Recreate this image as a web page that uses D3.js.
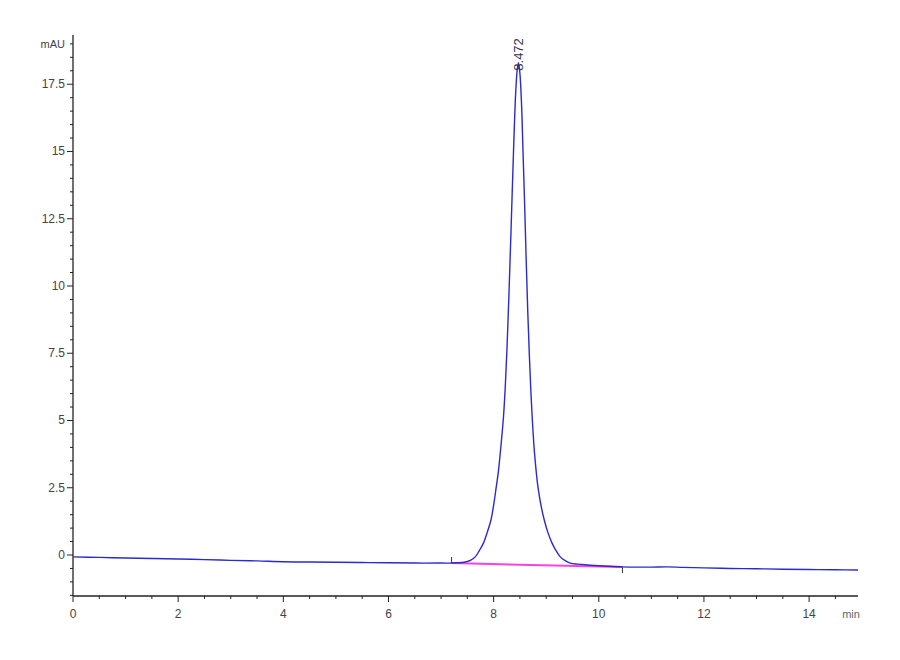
<!DOCTYPE html>
<html>
<head>
<meta charset="utf-8">
<script src="https://cdn.jsdelivr.net/npm/d3@7"></script>
<style>
  body { margin: 0; background: #fff; }
  svg text { font-family: "Liberation Sans Narrow", "Liberation Sans", Arial, sans-serif; }
</style>
</head>
<body>
<svg id="chart" width="900" height="660"></svg>
<script>
// --- data ---
const times = [0, 0.5, 1, 1.5, 2, 2.5, 3, 3.5, 4, 4.5, 5, 5.5, 6, 6.5, 7, 7.23,
  7.4, 7.48, 7.557, 7.65, 7.73, 7.808, 7.88, 7.949, 8.0, 8.05, 8.09, 8.126, 8.16, 8.188, 8.22,
  8.253, 8.29, 8.33, 8.379, 8.42, 8.447, 8.472, 8.5, 8.53, 8.558, 8.59, 8.62, 8.65, 8.68,
  8.71, 8.74, 8.773, 8.81, 8.843, 8.9, 8.963, 9.03, 9.109, 9.19, 9.267, 9.36, 9.458,
  9.6, 9.78, 10.0, 10.2, 10.45, 10.7, 11.0, 11.3, 11.6, 12.0, 12.5, 13.0, 13.5, 14.0, 14.5, 14.93];
const signal = [-0.07, -0.09, -0.11, -0.13, -0.15, -0.17, -0.2, -0.22, -0.25, -0.26, -0.27, -0.28, -0.29, -0.3, -0.3, -0.3,
  -0.28, -0.25, -0.2, -0.07, 0.17, 0.45, 0.85, 1.3, 1.85, 2.53, 3.1, 3.79, 4.5, 5.15, 6.2,
  7.62, 9.6, 12.0, 15.06, 17.2, 18.0, 18.3, 17.9, 16.8, 15.06, 13.0, 10.9, 9.0, 7.4,
  6.0, 4.9, 3.9, 3.1, 2.53, 1.85, 1.3, 0.85, 0.45, 0.15, -0.07, -0.21, -0.3,
  -0.34, -0.37, -0.4, -0.42, -0.44, -0.45, -0.45, -0.44, -0.46, -0.48, -0.5, -0.51, -0.53, -0.54, -0.55, -0.56];

const peakTime  = 8.472;
const peakLabel = "8.472";
const baseTimes  = [7.2, 10.45];
const baseValues = [-0.30, -0.45];

const xMajor = [0, 2, 4, 6, 8, 10, 12, 14];
const yMajor = [0, 2.5, 5, 7.5, 10, 12.5, 15, 17.5];
const yLabels = ["0", "2.5", "5", "7.5", "10", "12.5", "15", "17.5"];

// --- scales ---
const svg = d3.select("#chart");
const x = d3.scaleLinear().domain([0, 14.93]).range([73, 858]);
const y = d3.scaleLinear().domain([-1.524, 19.33]).range([596, 35]);

const axisColor = "#222";
const labelColor = "#444";

// minor ticks every 0.5
const xMinor = d3.range(0, 14.93, 0.5).filter(v => v % 2 !== 0);
const yMinor = d3.range(-1.5, 19.3, 0.5).filter(v => Math.abs(v % 2.5) > 1e-9);

// x axis
const xAxis = svg.append("g").attr("transform", `translate(0,${y.range()[0]})`);
xAxis.append("line")
  .attr("x1", x.range()[0]).attr("x2", x.range()[1])
  .attr("stroke", axisColor).attr("stroke-width", 1.3);
xAxis.selectAll(".xmin").data(xMinor).enter().append("line")
  .attr("x1", d => x(d)).attr("x2", d => x(d))
  .attr("y1", 0).attr("y2", 3)
  .attr("stroke", axisColor);
xAxis.selectAll(".xmaj").data(xMajor).enter().append("line")
  .attr("x1", d => x(d)).attr("x2", d => x(d))
  .attr("y1", 0).attr("y2", 6)
  .attr("stroke", axisColor);
xAxis.selectAll(".xlab").data(xMajor).enter().append("text")
  .attr("x", d => x(d)).attr("y", 22)
  .attr("text-anchor", "middle")
  .style("font-size", "12px").style("fill", labelColor)
  .text(d => d);
xAxis.append("text")
  .attr("x", 851).attr("y", 22)
  .attr("text-anchor", "middle")
  .style("font-size", "11px").style("fill", "#666")
  .text("min");

// y axis
const yAxis = svg.append("g").attr("transform", `translate(${x.range()[0]},0)`);
yAxis.append("line")
  .attr("y1", y.range()[0]).attr("y2", y.range()[1])
  .attr("stroke", axisColor).attr("stroke-width", 1.3);
yAxis.selectAll(".ymin").data(yMinor).enter().append("line")
  .attr("y1", d => y(d)).attr("y2", d => y(d))
  .attr("x1", 0).attr("x2", -3)
  .attr("stroke", axisColor);
yAxis.selectAll(".ymaj").data(yMajor).enter().append("line")
  .attr("y1", d => y(d)).attr("y2", d => y(d))
  .attr("x1", 0).attr("x2", -6)
  .attr("stroke", axisColor);
yAxis.selectAll(".ylab").data(yMajor).enter().append("text")
  .attr("x", -8).attr("y", d => y(d) + 4)
  .attr("text-anchor", "end")
  .style("font-size", "12px").style("fill", labelColor)
  .text((d, i) => yLabels[i]);
yAxis.append("text")
  .attr("x", -8).attr("y", y(19) + 4)
  .attr("text-anchor", "end")
  .style("font-size", "11px").style("fill", labelColor)
  .text("mAU");

// baseline of the integrated peak
svg.append("line")
  .attr("x1", x(baseTimes[0])).attr("y1", y(baseValues[0]))
  .attr("x2", x(baseTimes[1])).attr("y2", y(baseValues[1]))
  .attr("stroke", "#ff40e0").attr("stroke-width", 2);
svg.append("line")
  .attr("x1", x(baseTimes[0])).attr("x2", x(baseTimes[0]))
  .attr("y1", y(baseValues[0]) - 6).attr("y2", y(baseValues[0]))
  .attr("stroke", "#333");
svg.append("line")
  .attr("x1", x(baseTimes[1])).attr("x2", x(baseTimes[1]))
  .attr("y1", y(baseValues[1])).attr("y2", y(baseValues[1]) + 6)
  .attr("stroke", "#333");

// signal trace
const pts = times.map((t, i) => [t, signal[i]]);
const line = d3.line()
  .x(d => x(d[0]))
  .y(d => y(d[1]))
  .curve(d3.curveCatmullRom.alpha(0.5));
svg.append("path")
  .datum(pts)
  .attr("d", line)
  .attr("fill", "none")
  .attr("stroke", "#2a2ad0")
  .attr("stroke-width", 1.4);

// peak retention-time label, rotated
svg.append("text")
  .attr("transform", `translate(${x(peakTime) + 5},${y(18.3) + 8}) rotate(-90)`)
  .style("font-family", "'Liberation Sans', Arial, sans-serif")
  .style("font-size", "13px").style("fill", "#334")
  .text(peakLabel);
</script>
</body>
</html>
